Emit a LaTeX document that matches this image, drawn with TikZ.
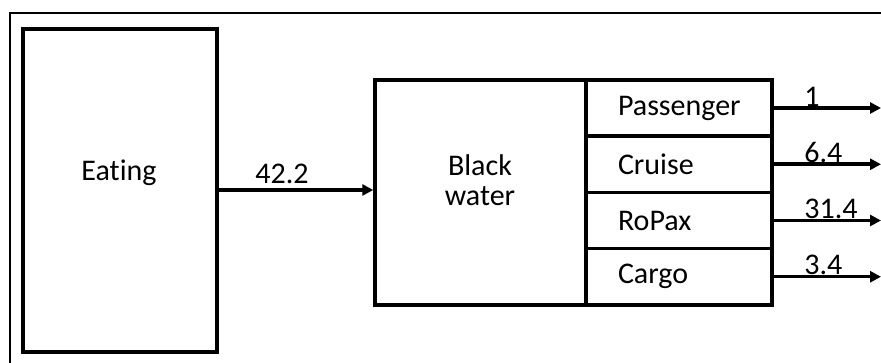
\documentclass[tikz,border=0pt]{standalone}
\usepackage{fontspec}
\setmainfont{Carlito}[Ligatures = NoCommon]
\usetikzlibrary{arrows.meta}

\begin{document}
\begin{tikzpicture}[x=1pt, y=-1pt]
  \def\rowheight{56.25pt}
  \tikzstyle{box} = [rectangle, draw, line width = 3.5pt, inner sep = 0pt]
  \tikzstyle{row} = [box, minimum width = 186pt, minimum height = \rowheight, text width = 122pt, inner xsep = 32pt, align = left]
  \tikzstyle{flow} = [line width = 3.5pt, -{Triangle[length = 11pt, width = 11pt]}]
  \tikzstyle{amount} = [anchor = south west, inner sep = 0pt]

  \useasboundingbox (0, 0) rectangle (881, 363);
  \draw[line width = 2pt] (881, 13) -| (10, 363);

  \begin{scope}[font = \fontsize{30}{36}\selectfont]
    \node[box, minimum width = 194pt, minimum height = 323pt] (eat) at (120, 190.5) {};
    \node (eatlabel) at (119, 173) {Eating};

    \node[box, minimum width = 211pt, minimum height = 225pt] (bw) at (480.5, 192.5) {};
    \node[align = center] (bwlabel) at (480, 180) {Black\\[-6pt]water};

    \node[row] (pass) at (679, 108) {Passenger};
    \node[row] (cruise) at (679, 164.25) {Cruise};
    \node[row] (ropax) at (679, 220.5) {RoPax};
    \node[row] (cargo) at (679, 276.75) {Cargo};

    \coordinate (o1) at (881, 108);
    \coordinate (o2) at (881, 164.25);
    \coordinate (o3) at (881, 220.5);
    \coordinate (o4) at (881, 276.75);

    \draw[flow] (eat.east |- 0, 190) -- (bw.west |- 0, 190) node[midway, above = 1pt, xshift = -14pt] {42.2};
    \draw[flow] (pass) -- (o1) node[amount, pos = 0.27] {1};
    \draw[flow] (cruise) -- (o2) node[amount, pos = 0.27] {6.4};
    \draw[flow] (ropax) -- (o3) node[amount, pos = 0.27] {31.4};
    \draw[flow] (cargo) -- (o4) node[amount, pos = 0.27] {3.4};
  \end{scope}
\end{tikzpicture}
\end{document}
